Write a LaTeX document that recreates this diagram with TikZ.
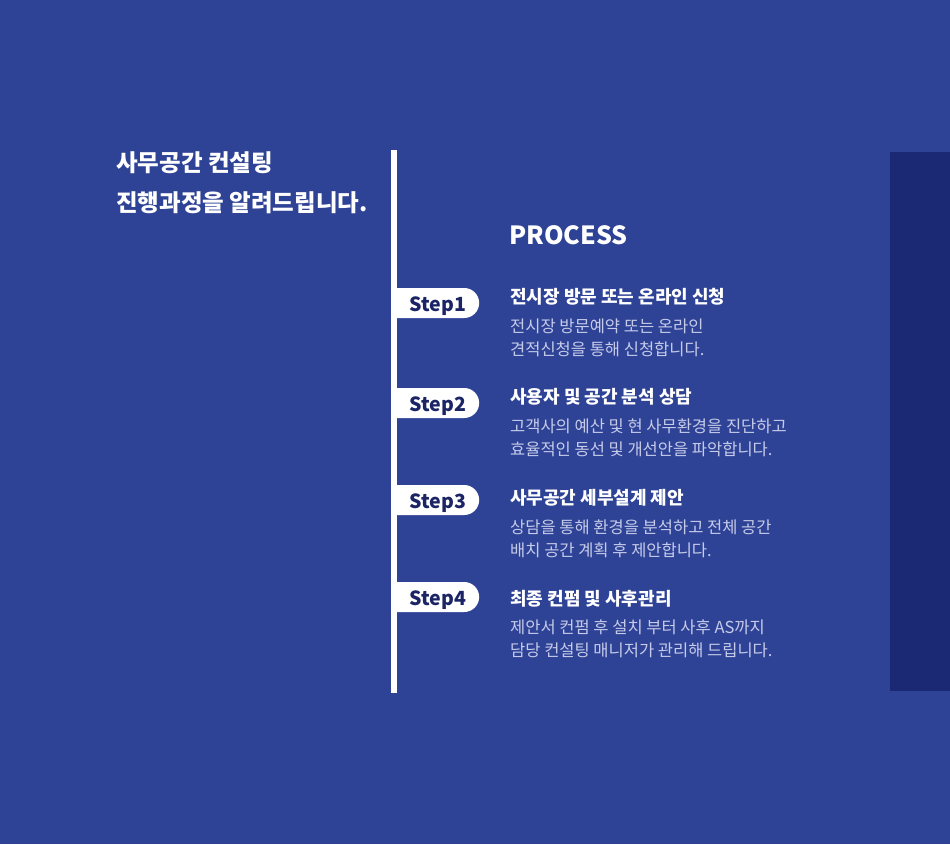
\documentclass[tikz,border=0pt]{standalone}
\usepackage{fontspec}
\setmainfont{Noto Sans CJK KR}
\definecolor{bgblue}{RGB}{47,67,150}
\definecolor{sideblue}{RGB}{27,40,115}
\definecolor{tabtext}{RGB}{27,36,100}
\definecolor{desctext}{RGB}{198,203,234}
\usetikzlibrary{shapes.misc}

\begin{document}
\begin{tikzpicture}[x=1pt,y=-1pt,
  steptab/.style={rounded rectangle,rounded rectangle left arc=none,fill=white,
    text=tabtext,font=\fontsize{19.5}{20}\selectfont\bfseries,
    text height=16pt,text depth=0pt,execute at begin node=\hspace*{8pt},
    minimum width=88pt,minimum height=30pt,inner sep=0pt},
  steptitle/.style={anchor=west,text=white,font=\fontsize{18}{20}\selectfont\bfseries,inner sep=0pt},
  stepdesc/.style={anchor=north west,text=desctext,align=left,
    font=\fontsize{16.5}{23}\selectfont,inner sep=0pt}]
  % page and side band
  \fill[bgblue] (0,0) rectangle (950,844);
  \fill[sideblue] (890,152) rectangle (950,691);
  % headline
  \node[anchor=north west,text=white,align=left,inner sep=0pt,
    font=\fontsize{23.5}{40.5}\selectfont\bfseries] (head) at (116,151)
    {사무공간 컨설팅\\진행과정을 알려드립니다.};
  \node[anchor=west,text=white,inner sep=0pt,
    font=\fontsize{25}{30}\selectfont\bfseries] (proc) at (509,235) {PROCESS};
  % time line
  \coordinate (top) at (394,150);
  \coordinate (bot) at (394,693);
  \draw[white,line width=6pt] (top) -- (bot);
  % steps
  \node[steptab] (s1) at (434,303) {Step1};
  \node[steptitle] (t1) at (510,297) {전시장 방문 또는 온라인 신청};
  \node[stepdesc] (d1) at (510,319) {전시장 방문예약 또는 온라인\\견적신청을 통해 신청합니다.};
  \node[steptab] (s2) at (434,403) {Step2};
  \node[steptitle] (t2) at (510,397) {사용자 및 공간 분석 상담};
  \node[stepdesc] (d2) at (510,419) {고객사의 예산 및 현 사무환경을 진단하고\\효율적인 동선 및 개선안을 파악합니다.};
  \node[steptab] (s3) at (434,500) {Step3};
  \node[steptitle] (t3) at (510,498) {사무공간 세부설계 제안};
  \node[stepdesc] (d3) at (510,520) {상담을 통해 환경을 분석하고 전체 공간\\배치 공간 계획 후 제안합니다.};
  \node[steptab] (s4) at (434,597) {Step4};
  \node[steptitle] (t4) at (510,599) {최종 컨펌 및 사후관리};
  \node[stepdesc] (d4) at (510,620) {제안서 컨펌 후 설치 부터 사후 AS까지\\담당 컨설팅 매니저가 관리해 드립니다.};
\end{tikzpicture}
\end{document}
